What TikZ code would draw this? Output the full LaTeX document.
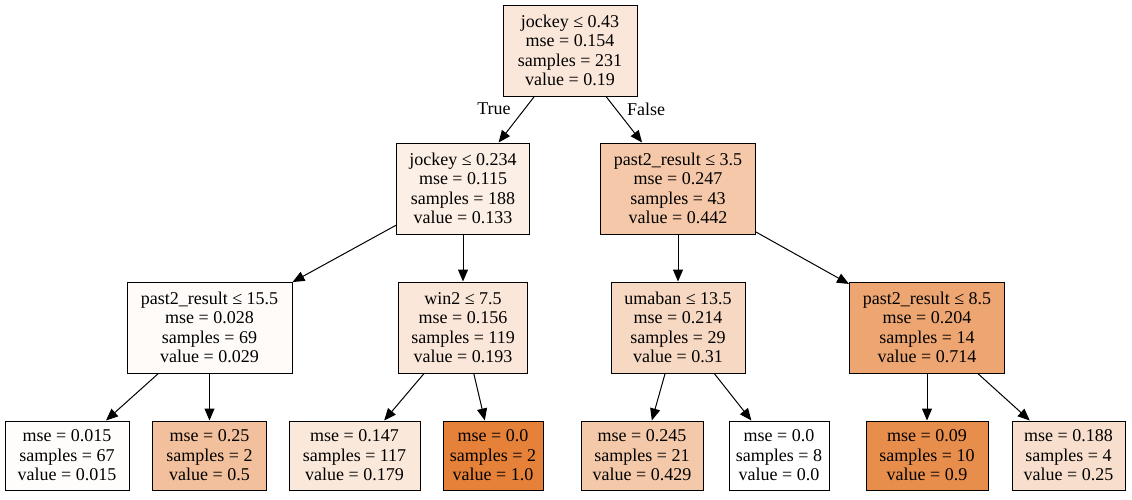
\documentclass[tikz,border=0pt]{standalone}
\usepackage{fontspec}
\setmainfont{Liberation Serif}
\usetikzlibrary{arrows.meta}
\definecolor{sk}{RGB}{229,129,57}
\begin{document}
\begin{tikzpicture}[x=1pt,y=-1pt,
  tn/.style={draw=black,line width=1pt,rectangle,inner sep=0pt,align=center,
    font=\fontsize{18}{19.5}\selectfont,minimum height=91},
  lf/.style={tn,minimum height=69},
  ed/.style={line width=1pt,-{Triangle[length=12pt,width=10pt]}},
  lbl/.style={font=\fontsize{18}{19.5}\selectfont,inner sep=0pt}]
\useasboundingbox (0,0) rectangle (1132,499);
\fill[white] (0,0) rectangle (1132,499);
% internal nodes
\node[tn,minimum width=134,fill=sk!19!white] (n0) at (570,50.5) {jockey ≤ 0.43\\mse = 0.154\\samples = 231\\value = 0.19};
\node[tn,minimum width=133,fill=sk!13!white] (n1) at (463,188.5) {jockey ≤ 0.234\\mse = 0.115\\samples = 188\\value = 0.133};
\node[tn,minimum width=155,fill=sk!44!white] (n2) at (678,188.5) {past2\_result ≤ 3.5\\mse = 0.247\\samples = 43\\value = 0.442};
\node[tn,minimum width=165,fill=sk!3!white] (n3) at (209.5,327.5) {past2\_result ≤ 15.5\\mse = 0.028\\samples = 69\\value = 0.029};
\node[tn,minimum width=129,fill=sk!19!white] (n4) at (463,327.5) {win2 ≤ 7.5\\mse = 0.156\\samples = 119\\value = 0.193};
\node[tn,minimum width=134,fill=sk!31!white] (n5) at (678,327.5) {umaban ≤ 13.5\\mse = 0.214\\samples = 29\\value = 0.31};
\node[tn,minimum width=155,fill=sk!71!white] (n6) at (927,327.5) {past2\_result ≤ 8.5\\mse = 0.204\\samples = 14\\value = 0.714};
% leaves
\node[lf,minimum width=124,fill=sk!1.5!white] (l0) at (67,455.5) {mse = 0.015\\samples = 67\\value = 0.015};
\node[lf,minimum width=114,fill=sk!50!white] (l1) at (209.5,455.5) {mse = 0.25\\samples = 2\\value = 0.5};
\node[lf,minimum width=131,fill=sk!18!white] (l2) at (354.5,455.5) {mse = 0.147\\samples = 117\\value = 0.179};
\node[lf,minimum width=100,fill=sk] (l3) at (493,455.5) {mse = 0.0\\samples = 2\\value = 1.0};
\node[lf,minimum width=122,fill=sk!43!white] (l4) at (642,455.5) {mse = 0.245\\samples = 21\\value = 0.429};
\node[lf,minimum width=100,fill=white] (l5) at (779,455.5) {mse = 0.0\\samples = 8\\value = 0.0};
\node[lf,minimum width=122,fill=sk!90!white] (l6) at (927,455.5) {mse = 0.09\\samples = 10\\value = 0.9};
\node[lf,minimum width=113,fill=sk!25!white] (l7) at (1068.5,455.5) {mse = 0.188\\samples = 4\\value = 0.25};
% edges
\draw[ed] (n0) -- (n1);
\draw[ed] (n0) -- (n2);
\draw[ed] (n1) -- (n3);
\draw[ed] (n1) -- (n4);
\draw[ed] (n2) -- (n5);
\draw[ed] (n2) -- (n6);
\draw[ed] (n3) -- (l0);
\draw[ed] (n3) -- (l1);
\draw[ed] (n4) -- (l2);
\draw[ed] (n4) -- (l3);
\draw[ed] (n5) -- (l4);
\draw[ed] (n5) -- (l5);
\draw[ed] (n6) -- (l6);
\draw[ed] (n6) -- (l7);
% edge labels
\node[lbl] (tlab) at (494,109) {True};
\node[lbl] (flab) at (646,109) {False};
\end{tikzpicture}
\end{document}
